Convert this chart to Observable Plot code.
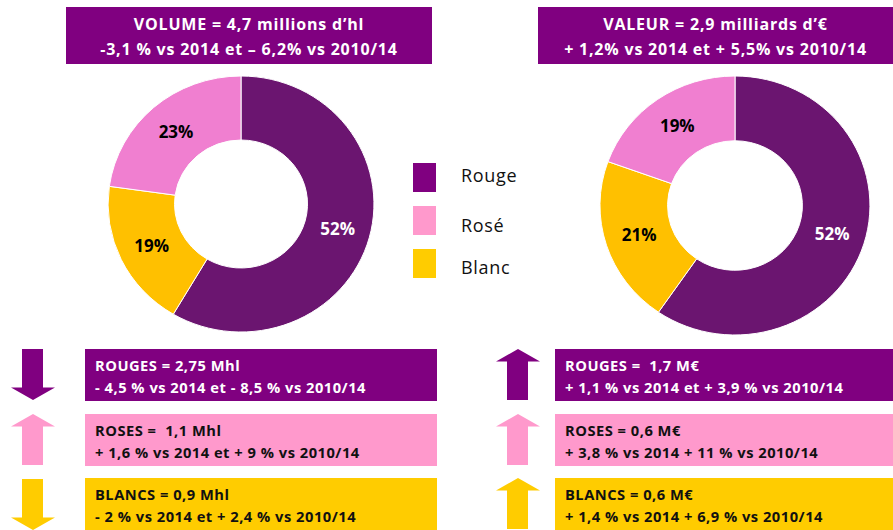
<!DOCTYPE html>
<html><head><meta charset="utf-8">
<script src="https://cdn.jsdelivr.net/npm/d3@7"></script>
<script src="https://cdn.jsdelivr.net/npm/@observablehq/plot@0.6"></script>
<style>
body{margin:0;background:#fff;}
#root{position:relative;width:893px;height:530px;overflow:hidden;font-family:"Open Sans","Lato",sans-serif;}
.hdr{position:absolute;background:#800080;color:#fff;font-weight:bold;text-align:center;font-size:16px;letter-spacing:0.8px;line-height:24.5px;box-sizing:border-box;padding-top:5px;white-space:nowrap;}
.box{position:absolute;font-weight:bold;font-size:14.7px;letter-spacing:0.5px;line-height:22px;box-sizing:border-box;padding-top:5px;padding-left:10px;white-space:nowrap;}
.leg{position:absolute;font-size:18px;letter-spacing:0.7px;line-height:18px;color:#111;white-space:nowrap;}
.sw{position:absolute;width:23px;height:29px;}
.donut{position:absolute;}
.arrow{position:absolute;}
</style></head><body><div id="root"></div><script>
// ---- data ----
const categories = ["Rouge", "Blanc", "Rosé"];
const volumeShare = [58.5, 18.7, 22.8];
const volumeLabels = ["52%", "19%", "23%"];
const valueShare = [59.6, 20.9, 19.5];
const valueLabels = ["52%", "21%", "19%"];
const sliceColors = ["#6B1570", "#FFC000", "#F07FD0"];

const legendNames = ["Rouge", "Rosé", "Blanc"];
const legendColors = ["#800080", "#FF99CC", "#FFCC00"];

const volumeTitle = ["VOLUME = 4,7 millions d\u2019hl", "-3,1 % vs 2014 et \u2013 6,2% vs 2010/14"];
const valueTitle = ["VALEUR = 2,9 milliards d\u2019\u20ac", "+ 1,2% vs 2014 et + 5,5% vs 2010/14"];

const volumeBoxes = [
  ["ROUGES = 2,75 Mhl", "- 4,5 % vs 2014 et - 8,5 % vs 2010/14"],
  ["ROSES =&nbsp; 1,1 Mhl", "+ 1,6 % vs 2014 et + 9 % vs 2010/14"],
  ["BLANCS = 0,9 Mhl", "- 2 % vs 2014 et + 2,4 % vs 2010/14"]
];
const valueBoxes = [
  ["ROUGES =&nbsp; 1,7 M\u20ac", "+ 1,1 % vs 2014 et + 3,9 % vs 2010/14"],
  ["ROSES = 0,6 M\u20ac", "+ 3,8 % vs 2014 + 11 % vs 2010/14"],
  ["BLANCS = 0,6 M\u20ac", "+ 1,4 % vs 2014 + 6,9 % vs 2010/14"]
];
const volumeTrend = ["down", "up", "down"];
const valueTrend = ["up", "up", "up"];
const boxColors = ["#800080", "#FF99CC", "#FFCC00"];
const boxText = ["#fff", "#111", "#111"];

// ---- layout ----
const root = document.getElementById("root");
function el(tag, cls, style, html) {
  const e = document.createElement(tag);
  if (cls) e.className = cls;
  Object.assign(e.style, style || {});
  if (html != null) e.innerHTML = html;
  root.appendChild(e);
  return e;
}

function donut(shares, labels, w, h) {
  const pie = d3.pie().sort(null).value(d => d)(shares);
  const arc = d3.arc().innerRadius(0.5).outerRadius(1);
  const data = pie.map((p, i) => ({cat: categories[i], i, p, label: labels[i], c: arc.centroid(p)}));
  return Plot.plot({
    width: w, height: h, margin: 0,
    style: {fontFamily: "'Open Sans', Lato, sans-serif", overflow: "visible", background: "transparent"},
    x: {domain: [-1, 1], axis: null},
    y: {domain: [-1, 1], axis: null},
    marks: [
      (index, scales) => {
        const cx = scales.x(0), cy = scales.y(0);
        const sx = scales.x(1) - cx, sy = cy - scales.y(1);
        const g = d3.create("svg:g").attr("transform", `translate(${cx},${cy}) scale(${sx},${sy})`);
        g.selectAll("path").data(data).join("path")
          .attr("d", d => arc(d.p))
          .attr("fill", d => sliceColors[d.i])
          .attr("stroke", "#fff").attr("stroke-width", 1)
          .attr("vector-effect", "non-scaling-stroke");
        return g.node();
      },
      Plot.text(data.filter(d => d.cat === "Rouge"), {x: d => d.c[0], y: d => -d.c[1], text: "label", fill: "#fff", fontWeight: "bold", fontSize: 17}),
      Plot.text(data.filter(d => d.cat !== "Rouge"), {x: d => d.c[0], y: d => -d.c[1], text: "label", fill: "#000", fontWeight: "bold", fontSize: 17})
    ]
  });
}

// headers
el("div", "hdr", {left: "66px", top: "7px", width: "366px", height: "57px"}, volumeTitle.join("<br>"));
el("div", "hdr", {left: "538px", top: "7px", width: "355px", height: "57px"}, valueTitle.join("<br>"));

// donuts
const d1 = donut(volumeShare, volumeLabels, 266, 256);
d1.classList.add("donut"); Object.assign(d1.style, {left: "108px", top: "75.5px"}); root.appendChild(d1);
const d2 = donut(valueShare, valueLabels, 270, 259);
d2.classList.add("donut"); Object.assign(d2.style, {left: "600px", top: "76px"}); root.appendChild(d2);

// legend
const swatchTops = [163, 206, 249];
const textTops = [165.5, 215.5, 258];
legendNames.forEach((n, i) => {
  el("div", "sw", {left: "413px", top: swatchTops[i] + "px", background: legendColors[i]});
  el("div", "leg", {left: "461px", top: textTops[i] + "px"}, n);
});

// boxes + arrows
const boxTops = [349, 414, 478];
function arrowSvg(dir, color) {
  const w = 44, h = 51, hh = 12.5, s0 = 11, s1 = 32;
  const pts = dir === "down"
    ? [[s0,0],[s1,0],[s1,h-hh],[w,h-hh],[w/2,h],[0,h-hh],[s0,h-hh]]
    : [[w/2,0],[w,hh],[s1,hh],[s1,h],[s0,h],[s0,hh],[0,hh]];
  return `<svg width="${w}" height="${h}" style="display:block"><polygon points="${pts.map(p => p.join(",")).join(" ")}" fill="${color}"/></svg>`;
}
volumeBoxes.forEach((b, i) => {
  el("div", "box", {left: "85px", top: boxTops[i] + "px", width: "352px", height: "52px", background: boxColors[i], color: boxText[i]}, b.join("<br>"));
  el("div", "arrow", {left: "11px", top: (boxTops[i] + (i === 2 ? 1 : 0)) + "px"}, arrowSvg(volumeTrend[i], boxColors[i]));
});
valueBoxes.forEach((b, i) => {
  el("div", "box", {left: "555px", top: boxTops[i] + "px", width: "338px", height: "52px", background: boxColors[i], color: boxText[i]}, b.join("<br>"));
  el("div", "arrow", {left: "496px", top: boxTops[i] + "px"}, arrowSvg(valueTrend[i], boxColors[i]));
});
</script></body></html>
